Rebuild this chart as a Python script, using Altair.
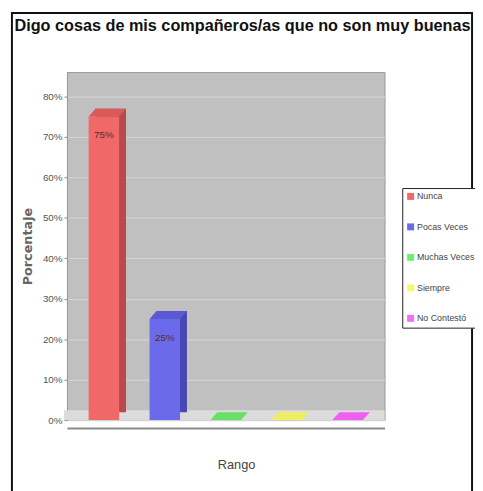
import altair as alt
import pandas as pd

# ---- data ----
categorias = ["Nunca", "Pocas Veces", "Muchas Veces", "Siempre", "No Contestó"]
porcentajes = [75, 25, 0, 0, 0]
ticks_y = [0, 10, 20, 30, 40, 50, 60, 70, 80]

titulo = "Digo cosas de mis compañeros/as que no son muy buenas"
titulo_y = "Porcentaje"
titulo_x = "Rango"

# ---- styles ----
col_frente = ["#f06868", "#6a6aea", "#6cef6c", "#f8f86a", "#f86af8"]
col_lado = ["#b84a4a", "#4848b4", "#48b848", "#c0c048", "#c048c0"]
col_tapa = ["#d85a5a", "#5a5ad4", "#66e066", "#eeee60", "#ee60ee"]

FONT = "Liberation Sans"
W, H = 323, 354

df = pd.DataFrame({"cat": categorias, "val": porcentajes})

xs = alt.Scale(domain=categorias, paddingInner=0.5, paddingOuter=0.355)
ys = alt.Scale(domain=[0, 86], nice=False)

X = alt.X("cat:N", scale=xs, sort=categorias,
          axis=alt.Axis(labels=False, ticks=False, offset=8, domainColor="#8a8a8a",
                        domainWidth=2, title=titulo_x, titleFont=FONT, titleFontSize=13,
                        titleFontWeight="normal", titleColor="#444444", titlePadding=31,
                        titleX=172, titleAlign="center"))
Y = alt.Y("val:Q", scale=ys,
          axis=alt.Axis(values=ticks_y, labelExpr="datum.value + '%'", labelFont=FONT,
                        labelFontSize=10, labelColor="#555555", tickSize=3, tickColor="#888888",
                        labelPadding=2, domainColor="#999999", gridColor="#d6d6d6",
                        title=titulo_y, titleFont="DejaVu Sans", titleFontSize=13,
                        titleFontWeight="bold", titleColor="#666666", titlePadding=8))

base = alt.Chart(df)

frame = alt.Chart(pd.DataFrame({"k": [0]})).mark_rect(
    filled=False, stroke="#111111", strokeWidth=2
).encode(x=alt.value(-56), x2=alt.value(412), y=alt.value(-60), y2=alt.value(H + 200))

floor = alt.Chart(pd.DataFrame({"k": [0]})).mark_rect(color="#dcdcdc").encode(
    x=alt.value(-3), x2=alt.value(W), y=alt.value(H - 10), y2=alt.value(H))

side = base.mark_bar(xOffset=7, yOffset=-8).encode(
    x=X, y=Y,
    color=alt.Color("cat:N", scale=alt.Scale(domain=categorias, range=col_lado), legend=None))

front = base.mark_bar().encode(
    x=X, y=Y,
    color=alt.Color("cat:N", sort=categorias,
                    scale=alt.Scale(domain=categorias, range=col_frente),
                    legend=alt.Legend(title=None, orient="none", legendX=341, legendY=118,
                                      strokeColor="#222222", fillColor="white", padding=4,
                                      rowPadding=21, symbolType="square", symbolSize=50,
                                      symbolStrokeWidth=0, labelFont=FONT, labelFontSize=9,
                                      labelColor="#444444", labelOffset=2)))

top_shape = "M -0.969 0 L 0.969 0 L 1.406 -0.5 L -0.531 -0.5 Z"
top = base.mark_point(shape=top_shape, size=1024, filled=True, opacity=1, strokeWidth=0).encode(
    x=X, y=Y,
    color=alt.Color("cat:N", scale=alt.Scale(domain=categorias, range=col_tapa), legend=None))

labels = base.transform_filter("datum.val > 0").mark_text(
    baseline="top", dy=14, font=FONT, fontSize=10, color="#5a2a2a"
).encode(x=X, y=Y, text=alt.Text("label:N")).transform_calculate(label="datum.val + '%'")

chart = alt.layer(frame, floor, side, front, top, labels).resolve_scale(
    color="independent"
).properties(
    width=W, height=H,
    autosize=alt.AutoSizeParams(type="none"),
    padding={"left": 60, "top": 61, "right": 92, "bottom": 68},
    title=alt.TitleParams(titulo, font=FONT, fontSize=16.5, fontWeight="bold", color="#111111",
                          anchor="middle", frame="group", dx=17, offset=0, dy=36,
                          baseline="alphabetic"),
).configure(background="white").configure_view(fill="#c0c0c0", stroke="#9a9a9a")

chart.save("out.html", embed_options={"renderer": "svg", "actions": False})
